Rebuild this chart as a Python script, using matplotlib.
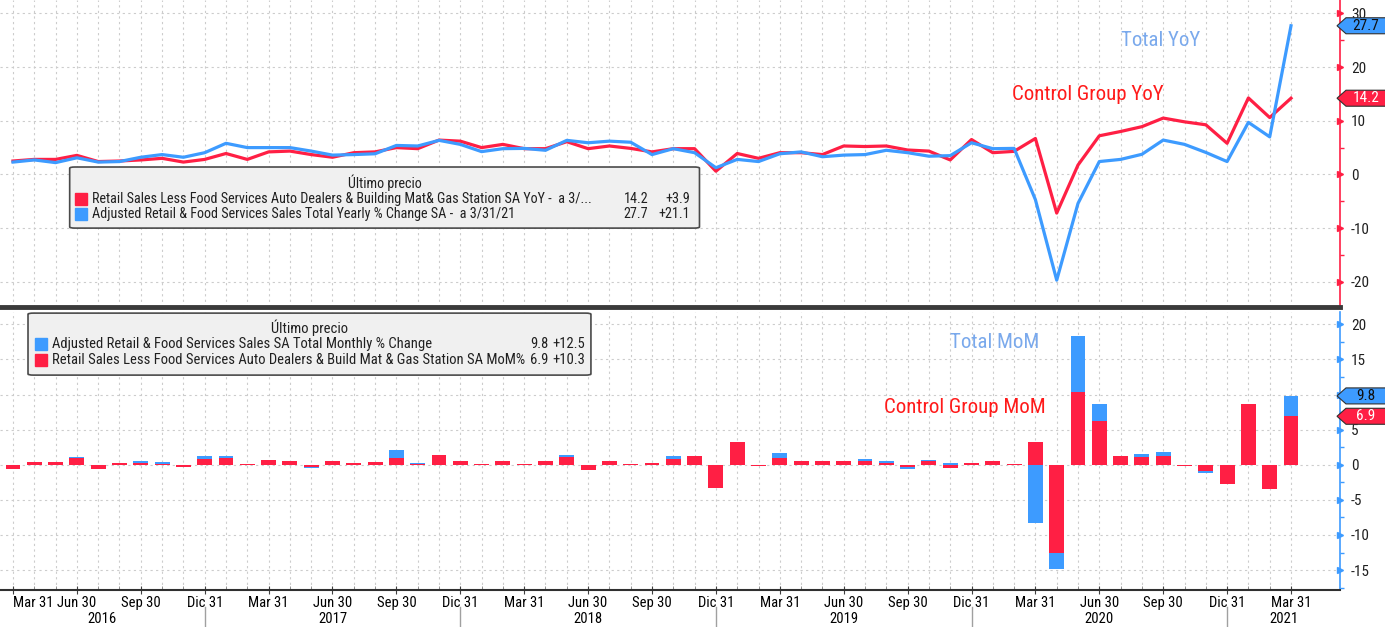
import numpy as np
import pandas as pd
import matplotlib
matplotlib.use('Agg')
import matplotlib.pyplot as plt
import matplotlib.transforms as mtransforms
from matplotlib.patches import FancyBboxPatch, Polygon

plt.rcParams.update({
    'font.family': ['Liberation Sans Narrow', 'Roboto Condensed', 'Archivo Narrow', 'Liberation Sans', 'DejaVu Sans'],
    'font.size': 10,
    'axes.unicode_minus': False,
})

RED = '#ff1f44'
BLUE = '#3d9bff'

# monthly data, Mar 2016 .. Mar 2021
months = pd.period_range('2016-03', '2021-03', freq='M')

control_yoy = [2.5, 2.8, 2.8, 3.55, 2.4, 2.5, 2.7, 3.0, 2.3, 2.8, 3.9, 2.8, 4.2, 4.35, 3.7, 3.2,
               4.05, 4.2, 5.0, 4.8, 6.4, 6.2, 5.0, 5.6, 4.8, 4.8, 6.1, 4.8, 5.3, 4.85, 4.2, 4.8,
               4.8, 0.6, 3.9, 3.0, 4.05, 4.05, 3.7, 5.3, 5.2, 5.3, 4.55, 4.35, 2.7, 6.5, 4.05, 4.3,
               6.7, -7.2, 1.75, 7.2, 8.0, 8.9, 10.5, 9.8, 9.25, 5.8, 14.25, 10.6, 14.2]
total_yoy = [2.3, 2.7, 2.2, 3.1, 2.3, 2.4, 3.2, 3.7, 3.2, 4.05, 5.8, 5.0, 5.0, 5.0, 4.35, 3.6,
             3.7, 3.85, 5.4, 5.3, 6.35, 5.6, 4.25, 4.8, 4.85, 4.5, 6.35, 5.9, 6.2, 6.0, 3.7, 4.8,
             4.05, 1.25, 2.8, 2.4, 3.85, 4.2, 3.3, 3.6, 3.7, 4.5, 4.05, 3.4, 3.5, 5.9, 4.8, 4.85,
             -4.7, -19.7, -5.4, 2.4, 2.8, 3.75, 6.4, 5.6, 4.1, 2.4, 9.7, 7.0, 27.7]
control_mom = [-0.55, 0.42, 0.42, 0.9, -0.55, 0.3, 0.2, 0.15, -0.3, 0.85, 1.0, 0.1, 0.7, 0.57, -0.3, 0.57,
               0.2, 0.42, 1.0, 0.15, 1.35, 0.6, 0.05, 0.6, 0.05, 0.6, 1.1, -0.75, 0.6, 0.05, 0.3, 0.75,
               1.2, -3.3, 3.2, -0.2, 1.0, 0.6, 0.6, 0.6, 0.5, 0.3, -0.35, 0.55, -0.4, 0.3, 0.55, 0.05,
               3.2, -12.5, 10.4, 6.2, 1.2, 1.05, 1.2, -0.2, -0.95, -2.75, 8.7, -3.4, 6.9]
total_mom = [-0.5, 0.4, 0.4, 1.1, -0.5, 0.3, 0.6, 0.33, -0.25, 1.2, 1.3, 0.1, -0.1, 0.5, -0.45, 0.5,
             -0.1, 0.4, 2.1, 0.3, 1.2, 0.5, 0.05, 0.5, 0.05, 0.5, 1.4, -0.7, 0.5, 0.05, -0.1, 1.2,
             -0.1, -3.1, 3.0, -0.1, 1.65, 0.5, 0.5, 0.5, 0.8, 0.55, -0.65, 0.65, 0.3, 0.25, 0.4, 0.05,
             -8.3, -14.8, 18.4, 8.6, 1.1, 1.5, 1.75, -0.1, -1.2, -1.2, 7.6, -3.0, 9.8]

quarter_names = {3: 'Mar 31', 6: 'Jun 30', 9: 'Sep 30', 12: 'Dic 31'}

top_legend = [
    (RED, 'Retail Sales Less Food Services Auto Dealers & Building Mat& Gas Station SA YoY -  a 3/...', '14.2', '+3.9'),
    (BLUE, 'Adjusted Retail & Food Services Sales Total Yearly % Change SA -  a 3/31/21', '27.7', '+21.1'),
]
bottom_legend = [
    (BLUE, 'Adjusted Retail & Food Services Sales SA Total Monthly % Change', '9.8', '+12.5'),
    (RED, 'Retail Sales Less Food Services Auto Dealers & Build Mat & Gas Station SA MoM%', '6.9', '+10.3'),
]

x = np.arange(len(months))
quarters = [i for i, m in enumerate(months) if m.month in quarter_names]
decembers = [i for i, m in enumerate(months) if m.month == 12]

fig = plt.figure(figsize=(13.85, 6.27), dpi=100)
ax1 = fig.add_axes([0, 1 - 307 / 627, 1340 / 1385, 307 / 627])
ax2 = fig.add_axes([0, 1 - 590 / 627, 1340 / 1385, 278 / 627])

grid_kw = dict(color='#cccccc', linestyle=(0, (2, 3)), linewidth=0.8)

for ax in (ax1, ax2):
    ax.set_xlim(-0.61, 62.3)
    ax.set_xticks(quarters)
    ax.set_xticks(x, minor=True)
    ax.xaxis.grid(True, which='both', **grid_kw)
    ax.yaxis.grid(True, which='major', **grid_kw)
    ax.yaxis.tick_right()
    ax.spines['left'].set_visible(False)
    ax.spines['top'].set_visible(False)
    ax.set_axisbelow(True)

# ---- top panel: YoY lines
ax1.plot(x, control_yoy, color=RED, lw=2.3, zorder=3)
ax1.plot(x, total_yoy, color=BLUE, lw=2.3, zorder=3)
ax1.set_ylim(-24.7, 32.5)
ax1.set_yticks(np.arange(-20, 31, 10))
ax1.set_yticks(np.arange(-15, 30, 10), minor=True)
ax1.spines['right'].set_color(RED)
ax1.spines['right'].set_linewidth(1.2)
ax1.spines['bottom'].set_color('#3a3a3a')
ax1.spines['bottom'].set_linewidth(3.5)
ax1.tick_params(axis='x', which='both', length=0, labelbottom=False)

ax1.text(52.0, 25.0, 'Total YoY', color='#7aa9ec', fontsize=15, va='center')
ax1.text(46.9, 14.8, 'Control Group YoY', color='#ff1a1a', fontsize=15, va='center')

# ---- bottom panel: MoM bars (total behind control)
ax2.bar(x, total_mom, width=0.7, color=BLUE, zorder=3)
ax2.bar(x, control_mom, width=0.7, color=RED, zorder=3)
ax2.set_ylim(-17.84, 21.75)
ax2.set_yticks(np.arange(-15, 21, 5))
ax2.set_yticks(np.arange(-17.5, 21, 5), minor=True)
ax2.spines['right'].set_color(BLUE)
ax2.spines['right'].set_linewidth(1.2)
ax2.spines['bottom'].set_color('#303030')
ax2.spines['bottom'].set_linewidth(1.5)
ax2.set_xticklabels([quarter_names[months[i].month] for i in quarters])
ax2.get_xticklabels()[0].set_horizontalalignment('left')
ax2.tick_params(axis='x', which='major', direction='inout', length=6, color='#404040', labelsize=10.5, pad=1)
ax2.tick_params(axis='x', which='minor', direction='in', length=3, color='#808080')

ax2.text(44.0, 17.35, 'Total MoM', color='#7aa9ec', fontsize=15, va='center')
ax2.text(40.9, 8.1, 'Control Group MoM', color='#ff1a1a', fontsize=15, va='center')

# year labels and separators under the axis
btrans = mtransforms.blended_transform_factory(ax2.transData, ax2.transAxes)
edges = [ax2.get_xlim()[0]] + decembers + [ax2.get_xlim()[1]]
years = sorted(set(m.year for m in months))
for yr, a, b in zip(years, edges[:-1], edges[1:]):
    ax2.text((a + b) / 2, -0.105, str(yr), transform=btrans, ha='center', va='center', fontsize=10.5)
for d in decembers:
    ax2.plot([d, d], [-0.06, -0.135], transform=btrans, color='#a0a0a0', lw=1, clip_on=False)

# right axis ticks: triangles at major ticks, short dashes at minor
for ax, col in ((ax1, RED), (ax2, BLUE)):
    ax.tick_params(axis='y', which='major', length=0, pad=8, labelsize=11, labelcolor='#202020')
    ax.tick_params(axis='y', which='minor', length=3, width=1, color=col)
    yt = ax.get_yticks()
    ax.plot(np.ones(len(yt)), yt, ls='none', marker='>', ms=5, color=col,
            transform=ax.get_yaxis_transform(), clip_on=False, zorder=4)


def legend_box(ax, x0, y0, x1, y1, title_y, rows, row_ys, tx, vx, cx, fs):
    ax.add_patch(FancyBboxPatch((x0, y0), x1 - x0, y1 - y0,
                                boxstyle='round,pad=0,rounding_size=0.004',
                                transform=ax.transAxes, fc='#f0f0f0', ec='#4a4a4a',
                                lw=1.2, zorder=6, clip_on=False))
    ax.text((x0 + x1) / 2, title_y, 'Último precio', transform=ax.transAxes,
            ha='center', va='center', fontsize=fs, color='#202020', zorder=7)
    for (col, lab, val, chg), ry in zip(rows, row_ys):
        ax.plot([tx - 0.008], [ry], marker='s', ms=8, color=col, transform=ax.transAxes,
                clip_on=False, zorder=7)
        ax.text(tx, ry, lab, transform=ax.transAxes, va='center', fontsize=fs, color='#202020', zorder=7)
        ax.text(vx, ry, val, transform=ax.transAxes, va='center', ha='right', fontsize=fs, color='#202020', zorder=7)
        ax.text(cx, ry, chg, transform=ax.transAxes, va='center', ha='right', fontsize=fs, color='#202020', zorder=7)


legend_box(ax1, 0.052, 0.257, 0.522, 0.456, 0.404, top_legend, [0.352, 0.303],
           0.0687, 0.4836, 0.515, 10.2)
legend_box(ax2, 0.0209, 0.773, 0.441, 0.996, 0.942, bottom_legend, [0.885, 0.827],
           0.0388, 0.409, 0.437, 10.5)


# value tags on the right axis
def value_tag(ax, val, txt, fc, tc):
    xa, ya = ax.transAxes.transform((1, 0))[0], ax.transData.transform((0, val))[1]
    pts = np.array([(xa - 3, ya), (xa + 6, ya + 8), (xa + 46, ya + 8), (xa + 46, ya - 8), (xa + 6, ya - 8)])
    fpts = fig.transFigure.inverted().transform(pts)
    fig.add_artist(Polygon(fpts, closed=True, transform=fig.transFigure, fc=fc, ec='#303030',
                           lw=0.8, zorder=10))
    cx, cy = fig.transFigure.inverted().transform((xa + 26, ya))
    fig.text(cx, cy, txt, ha='center', va='center', fontsize=11, color=tc, zorder=11)


value_tag(ax1, total_yoy[-1], '27.7', BLUE, '#101010')
value_tag(ax1, control_yoy[-1], '14.2', RED, 'white')
value_tag(ax2, total_mom[-1], '9.8', BLUE, '#101010')
value_tag(ax2, control_mom[-1], '6.9', RED, 'white')

fig.savefig('out.png', dpi=100)
